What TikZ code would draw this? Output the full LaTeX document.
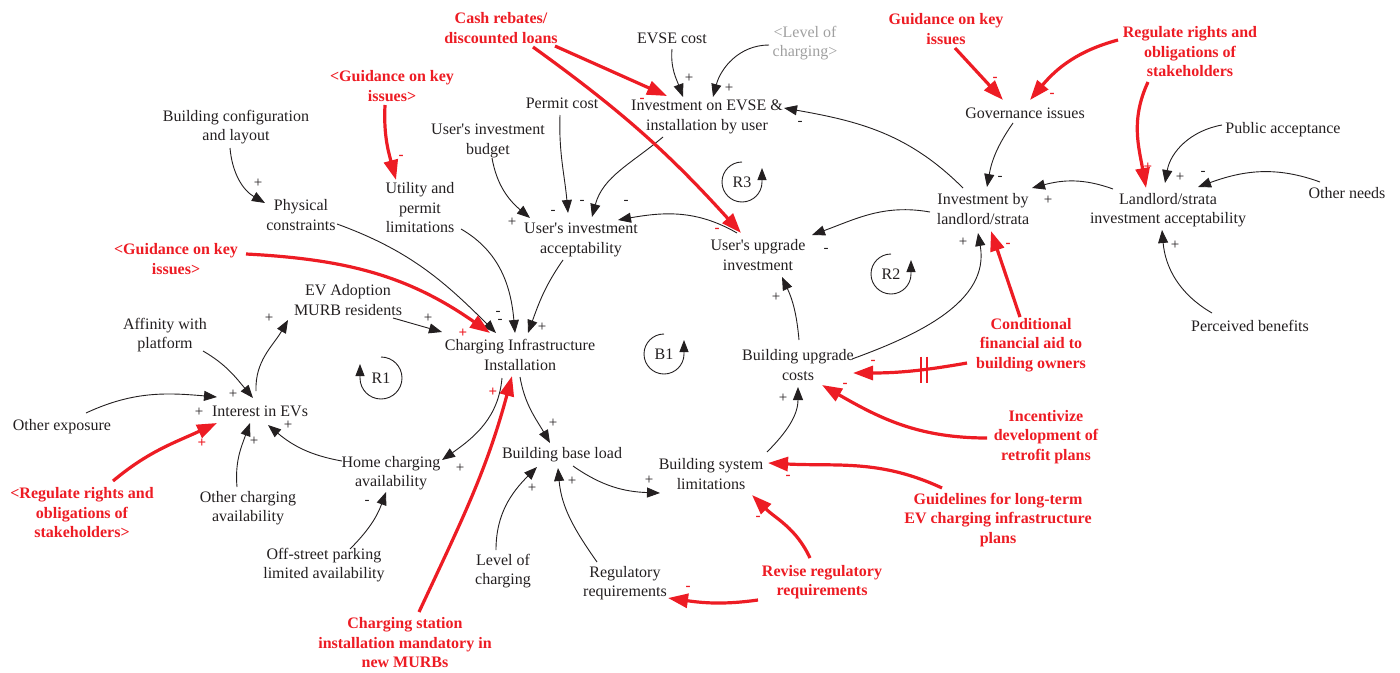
\documentclass[tikz,border=0pt]{standalone}
\usepackage{fontspec}
\setmainfont{Liberation Serif}[Ligatures=TeXOff]
\usetikzlibrary{arrows.meta}
\definecolor{ink}{HTML}{231F20}
\definecolor{myred}{HTML}{ED1C24}
\definecolor{mygray}{HTML}{A0A0A0}
\tikzset{
 txt/.style={font=\fontsize{16}{19.5}\selectfont, align=center, text=ink, inner sep=0pt},
 rtxt/.style={font=\bfseries\fontsize{16}{19.5}\selectfont, align=center, text=myred, inner sep=0pt},
 gtxt/.style={txt, text=mygray},
 pol/.style={font=\fontsize{15}{15}\selectfont, text=ink, inner sep=0pt},
 rpol/.style={font=\bfseries\fontsize{15}{15}\selectfont, text=myred, inner sep=0pt},
 blk/.style={draw=ink, line width=0.9pt, -{Triangle[length=13pt,width=10pt]}},
 redarr/.style={draw=myred, line width=3.2pt, -{Triangle[length=20pt,width=14pt]}},
 loopm/.style={draw=ink, line width=0.9pt, -{Triangle[length=12pt,width=9pt]}},
 looptxt/.style={font=\fontsize{16}{16}\selectfont, text=ink, inner sep=0pt},
}
\begin{document}
\begin{tikzpicture}[x=1pt,y=-1pt]
\useasboundingbox (0,0) rectangle (1400,672);
% black nodes
\node[txt] (bcl) at (236,127) {Building configuration\\and layout};
\node[txt] (phy) at (301,215) {Physical\\constraints};
\node[txt] (upl) at (420,208) {Utility and\\permit\\limitations};
\node[txt] (uib) at (488,141) {User's investment\\budget};
\node[txt] (pc) at (562,103) {Permit cost};
\node[txt] (evc) at (672,38) {EVSE cost};
\node[gtxt] (loc) at (805,43) {<Level of\\charging>};
\node[txt] (ievse) at (707,117) {Investment on EVSE \&\\installation by user};
\node[txt] (uia) at (581,240) {User's investment\\acceptability};
\node[txt] (uui) at (758,255) {User's upgrade\\investment};
\node[txt] (gov) at (1025,113) {Governance issues};
\node[txt] (pa) at (1283,130) {Public acceptance};
\node[txt] (ibl) at (983,209) {Investment by\\landlord/strata};
\node[txt] (lia) at (1168,210) {Landlord/strata\\investment acceptability};
\node[txt] (on) at (1347,193) {Other needs};
\node[txt] (pb) at (1250,326) {Perceived benefits};
\node[txt] (eva) at (348,300) {EV Adoption\\MURB residents};
\node[txt] (aff) at (165,335) {Affinity with\\platform};
\node[txt] (cii) at (520,355) {Charging Infrastructure\\Installation};
\node[txt] (iev) at (260,411) {Interest in EVs};
\node[txt] (oe) at (62,427) {Other exposure};
\node[txt] (oca) at (248,508) {Other charging\\availability};
\node[txt] (hca) at (391,473) {Home charging\\availability};
\node[txt] (osp) at (324,565) {Off-street parking\\limited availability};
\node[txt] (bbl) at (562,455) {Building base load};
\node[txt] (bsl) at (711,474) {Building system\\limitations};
\node[txt] (buc) at (798,365) {Building upgrade\\costs};
\node[txt] (lvc) at (503,571) {Level of\\charging};
\node[txt] (rr) at (625,583) {Regulatory\\requirements};
% red nodes
\node[rtxt] (cash) at (501,28) {Cash rebates/\\discounted loans};
\node[rtxt] (gk1) at (392,86) {<Guidance on key\\issues>};
\node[rtxt] (gk2) at (946,29) {Guidance on key\\issues};
\node[rtxt] (reg) at (1190,52) {Regulate rights and\\obligations of\\stakeholders};
\node[rtxt] (gk3) at (176,259) {<Guidance on key\\issues>};
\node[rtxt] (cfa) at (1031,345) {Conditional\\financial aid to\\building owners};
\node[rtxt] (inc) at (1046,437) {Incentivize\\development of\\retrofit plans};
\node[rtxt] (gl) at (998,520) {Guidelines for long-term\\EV charging infrastructure\\plans};
\node[rtxt] (rev) at (822,582) {Revise regulatory\\requirements};
\node[rtxt] (csm) at (405,643) {Charging station\\installation mandatory in\\new MURBs};
\node[rtxt] (rrs) at (82,513) {<Regulate rights and\\obligations of\\stakeholders>};
% loop markers
\node[looptxt] (lR1) at (381,378) {R1};
\node[looptxt] (lR3) at (742,182) {R3};
\node[looptxt] (lB1) at (664,354) {B1};
\node[looptxt] (lR2) at (891,274) {R2};
\draw[loopm] ([shift={(90:21pt)}]lR1.center) arc[start angle=90,end angle=-180,radius=21pt] -- ++(0,-14);
\draw[loopm] ([shift={(90:20pt)}]lR3.center) arc[start angle=90,end angle=360,radius=20pt] -- ++(0,-14);
\draw[loopm] ([shift={(90:20pt)}]lB1.center) arc[start angle=90,end angle=360,radius=20pt] -- ++(0,-14);
\draw[loopm] ([shift={(90:20pt)}]lR2.center) arc[start angle=90,end angle=360,radius=20pt] -- ++(0,-14);
% black connectors
\draw[blk] ([shift={(-6,21)}]bcl.center) to[out=-85,in=150] ([shift={(-36,-12)}]phy.center);
\draw[blk] ([shift={(36,9)}]phy.center) to[out=-20,in=135] ([shift={(-24,-22)}]cii.center);
\draw[blk] ([shift={(41,21)}]upl.center) to[out=-30,in=95] ([shift={(-5,-22)}]cii.center);
\draw[blk] ([shift={(-18,20)}]uia.center) to[out=-125,in=70] ([shift={(8,-22)}]cii.center);
\draw[blk] ([shift={(45,18)}]eva.center) -- ([shift={(-78,-23)}]cii.center);
\draw[blk] ([shift={(4,17)}]uib.center) to[out=-80,in=140] ([shift={(-51,-22)}]uia.center);
\draw[blk] ([shift={(-2,12)}]pc.center) to[out=-92,in=95] ([shift={(-13,-27)}]uia.center);
\draw[blk] ([shift={(-44,20)}]ievse.center) to[out=-140,in=75] ([shift={(11,-23)}]uia.center);
\draw[blk] ([shift={(-21,-22)}]uui.center) to[out=150,in=10] ([shift={(37,-20)}]uia.center);
\draw[blk] ([shift={(0,11)}]evc.center) to[out=-95,in=110] ([shift={(-24,-20)}]ievse.center);
\draw[blk] ([shift={(-36,2)}]loc.center) to[out=180,in=75] ([shift={(6,-20)}]ievse.center);
\draw[blk] ([shift={(-20,-21)}]ibl.center) to[out=135,in=-10] ([shift={(77,-9)}]ievse.center);
\draw[blk] ([shift={(-53,3)}]ibl.center) to[out=170,in=20] ([shift={(54,-20)}]uui.center);
\draw[blk] ([shift={(-12,10)}]gov.center) to[out=-125,in=80] ([shift={(4,-22)}]ibl.center);
\draw[blk] ([shift={(-55,-21)}]lia.center) to[out=160,in=15] ([shift={(49,-21)}]ibl.center);
\draw[blk] ([shift={(-61,-5)}]pa.center) to[out=190,in=80] ([shift={(-3,-27)}]lia.center);
\draw[blk] ([shift={(-27,-11)}]on.center) to[out=160,in=20] ([shift={(30,-23)}]lia.center);
\draw[blk] ([shift={(-38,-13)}]pb.center) to[out=150,in=-85] ([shift={(-6,20)}]lia.center);
\draw[blk] ([shift={(54,-6)}]buc.center) to[out=20,in=-80] ([shift={(-5,24)}]ibl.center);
\draw[blk] ([shift={(1,-25)}]buc.center) to[out=95,in=-65] ([shift={(24,22)}]uui.center);
\draw[blk] ([shift={(56,-22)}]bsl.center) to[out=45,in=-90] ([shift={(0,22)}]buc.center);
\draw[blk] ([shift={(0,22)}]cii.center) to[out=-80,in=120] ([shift={(-12,-12)}]bbl.center);
\draw[blk] ([shift={(-18,23)}]cii.center) to[out=-95,in=35] ([shift={(51,-13)}]hca.center);
\draw[blk] ([shift={(-49,-12)}]hca.center) to[out=170,in=-40] ([shift={(8,14)}]iev.center);
\draw[blk] ([shift={(26,-16)}]osp.center) to[out=45,in=-110] ([shift={(-5,19)}]hca.center);
\draw[blk] ([shift={(-11,-21)}]oca.center) to[out=95,in=-110] ([shift={(-10,12)}]iev.center);
\draw[blk] ([shift={(24,-14)}]oe.center) to[out=25,in=175] ([shift={(-43,-14)}]iev.center);
\draw[blk] ([shift={(38,16)}]aff.center) to[out=-30,in=130] ([shift={(-7,-13)}]iev.center);
\draw[blk] ([shift={(-4,-20)}]iev.center) to[out=92,in=-120] ([shift={(-60,20)}]eva.center);
\draw[blk] ([shift={(11,11)}]bbl.center) to[out=-35,in=178] ([shift={(-51,19)}]bsl.center);
\draw[blk] ([shift={(-7,-21)}]lvc.center) to[out=90,in=-135] ([shift={(-25,12)}]bbl.center);
\draw[blk] ([shift={(-28,-21)}]rr.center) to[out=125,in=-85] ([shift={(-4,13)}]bbl.center);
% red connectors
\draw[redarr] ([shift={(54,18)}]cash.center) -- ([shift={(-40,-21)}]ievse.center);
\draw[redarr] ([shift={(32,19)}]cash.center) to[bend left=6] ([shift={(-17,-22)}]uui.center);
\draw[redarr] ([shift={(-7,19)}]gk1.center) to[out=-93,in=105] ([shift={(-24,-28)}]upl.center);
\draw[redarr] ([shift={(9,19)}]gk2.center) -- ([shift={(-22,-13)}]gov.center);
\draw[redarr] ([shift={(-72,-12)}]reg.center) to[out=195,in=50] ([shift={(5,-13)}]gov.center);
\draw[redarr] ([shift={(-42,30)}]reg.center) to[out=-115,in=100] ([shift={(-22,-22)}]lia.center);
\draw[redarr] ([shift={(70,-5)}]gk3.center) to[out=-3,in=145] ([shift={(-30,-22)}]cii.center);
\draw[redarr] ([shift={(-11,-28)}]cfa.center) -- ([shift={(8,22)}]ibl.center);
\draw[redarr] ([shift={(-64,18)}]cfa.center) to[out=190,in=0] coordinate[pos=0.37] (dly) ([shift={(55,8)}]buc.center);
\draw[myred, line width=1.6pt] ([shift={(-3,-13)}]dly) -- ([shift={(-3,13)}]dly) ([shift={(3,-13)}]dly) -- ([shift={(3,13)}]dly);
\draw[redarr] ([shift={(-59,1)}]inc.center) to[out=180,in=-30] ([shift={(24,20)}]buc.center);
\draw[redarr] ([shift={(-56,-32)}]gl.center) to[out=155,in=-3] ([shift={(57,-11)}]bsl.center);
\draw[redarr] ([shift={(-12,-24)}]rev.center) to[out=115,in=-45] ([shift={(41,21)}]bsl.center);
\draw[redarr] ([shift={(-64,18)}]rev.center) to[out=188,in=-8] ([shift={(43,15)}]rr.center);
\draw[redarr] ([shift={(14,-31)}]csm.center) to[out=65,in=-105] ([shift={(-8,21)}]cii.center);
\draw[redarr] ([shift={(31,-32)}]rrs.center) to[out=40,in=205] ([shift={(-43,12)}]iev.center);
% polarity labels
\node[pol] (p1) at (258,183) {+};
\node[pol] (p2) at (498,313) {-};
\node[pol] (p3) at (500,321) {-};
\node[pol] (p4) at (542,327) {+};
\node[pol] (p5) at (428,318) {+};
\node[pol] (p6) at (512,222) {+};
\node[pol] (p7) at (553,212) {-};
\node[pol] (p8) at (582,202) {-};
\node[pol] (p9) at (626,202) {-};
\node[pol] (p10) at (689,78) {+};
\node[pol] (p11) at (729,88) {+};
\node[pol] (p12) at (800,123) {-};
\node[pol] (p13) at (826,250) {-};
\node[pol] (p14) at (1000,178) {-};
\node[pol] (p15) at (1048,200) {+};
\node[pol] (p16) at (1180,177) {+};
\node[pol] (p17) at (1203,173) {-};
\node[pol] (p18) at (1175,245) {+};
\node[pol] (p19) at (963,242) {+};
\node[pol] (p20) at (776,297) {+};
\node[pol] (p21) at (783,398) {+};
\node[pol] (p22) at (553,423) {+};
\node[pol] (p23) at (460,468) {+};
\node[pol] (p24) at (288,425) {+};
\node[pol] (p25) at (367,502) {-};
\node[pol] (p26) at (254,441) {+};
\node[pol] (p27) at (199,412) {+};
\node[pol] (p28) at (233,394) {+};
\node[pol] (p29) at (269,318) {+};
\node[pol] (p30) at (649,480) {+};
\node[pol] (p31) at (532,488) {+};
\node[pol] (p32) at (572,481) {+};
\node[rpol] (q1) at (642,100) {-};
\node[rpol] (q2) at (717,230) {-};
\node[rpol] (q3) at (401,157) {-};
\node[rpol] (q4) at (995,79) {-};
\node[rpol] (q5) at (1052,95) {-};
\node[rpol] (q6) at (1148,167) {+};
\node[rpol] (q7) at (463,333) {+};
\node[rpol] (q8) at (1008,245) {-};
\node[rpol] (q9) at (873,362) {-};
\node[rpol] (q10) at (845,385) {-};
\node[rpol] (q11) at (788,477) {-};
\node[rpol] (q12) at (758,518) {-};
\node[rpol] (q13) at (688,588) {-};
\node[rpol] (q14) at (493,392) {+};
\node[rpol] (q15) at (202,443) {+};
\end{tikzpicture}
\end{document}
